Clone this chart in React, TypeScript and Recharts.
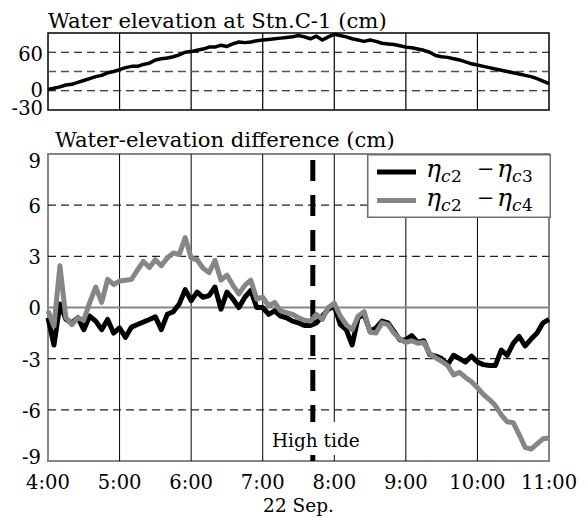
import React from 'react';
import { LineChart, Line, XAxis, YAxis, ReferenceLine, ReferenceArea, Legend } from 'recharts';

// ---------- data ----------
const timeMin = [
  0, 5, 10, 15, 20, 25, 30, 35, 40, 45, 50, 55, 60,
  65, 70, 75, 80, 85, 90, 95, 100, 105, 110, 115, 120,
  125, 130, 135, 140, 145, 150, 155, 160, 165, 170, 175, 180,
  185, 190, 195, 200, 205, 210, 215, 220, 225, 230, 235, 240,
  245, 250, 255, 260, 265, 270, 275, 280, 285, 290, 295, 300,
  305, 310, 315, 320, 325, 330, 335, 340, 345, 350, 355, 360,
  365, 370, 375, 380, 385, 390, 395, 400, 405, 410, 415, 420,
];

const elevationC1 = [
  2, 4, 6, 9, 10, 13, 16, 19, 22, 24, 28, 30, 33,
  36, 38, 38, 41, 43, 48, 50, 51, 53, 56, 60, 61,
  63, 65, 68, 68, 71, 69, 73, 76, 75, 76, 78, 79,
  80, 81, 82, 83, 84, 86, 84, 81, 85, 79, 84, 88,
  86, 84, 81, 79, 77, 79, 77, 74, 73, 72, 70, 68,
  67, 65, 63, 60, 55, 53, 52, 50, 48, 45, 42, 40,
  38, 36, 34, 32, 30, 28, 26, 24, 22, 19, 15, 11,
];

const diffC2C3 = [
  -0.6, -2.2, 0.2, -0.7, -0.9, -0.6, -1.3, -0.5, -0.8, -1.3, -0.7, -1.5, -1.2,
  -1.75, -1.15, -1.0, -0.85, -0.7, -0.55, -1.3, -0.4, -0.25, 0.2, 1.05, 0.4,
  0.9, 0.6, 0.7, 1.2, -0.1, 0.9, 0.5, 0.0, 0.6, 1.0, 0.0, 0.0,
  -0.4, -0.2, -0.5, -0.6, -0.8, -0.9, -1.05, -1.05, -0.9, -0.5, -0.1, 0.1,
  -1.0, -1.3, -2.2, -0.6, -0.4, -1.4, -1.2, -0.8, -0.9, -1.4, -1.9, -1.9,
  -1.65, -2.05, -1.95, -2.75, -2.85, -3.0, -3.35, -2.8, -3.0, -3.2, -2.85, -3.2,
  -3.35, -3.4, -3.4, -2.5, -2.8, -2.1, -1.7, -2.25, -1.85, -1.5, -0.9, -0.7,
];

const diffC2C4 = [
  -0.2, -1.1, 2.45, -0.6, -1.0, -0.6, -0.75, 0.3, 1.2, 0.3, 1.65, 1.35, 1.55,
  1.6, 1.65, 2.2, 2.7, 2.35, 2.8, 2.45, 2.9, 3.2, 3.1, 4.1, 2.9,
  2.8, 2.3, 2.05, 2.75, 1.6, 1.9, 1.3, 0.8, 1.3, 1.6, 0.5, 0.6,
  0.1, 0.3, -0.2, -0.3, -0.4, -0.6, -0.75, -0.8, -0.4, -0.7, 0.0, 0.25,
  -0.5, -1.0, -1.3, -0.5, -0.25, -1.45, -1.5, -0.9, -1.0, -1.5, -1.85, -2.05,
  -1.95, -2.1, -2.05, -2.7, -2.95, -3.15, -3.4, -3.95, -3.8, -4.1, -4.35, -4.7,
  -5.1, -5.4, -5.75, -6.3, -6.7, -6.75, -7.45, -8.2, -8.3, -8.0, -7.7, -7.65,
];

const hourTicks = [0, 60, 120, 180, 240, 300, 360, 420];
const hourLabels = ['4:00', '5:00', '6:00', '7:00', '8:00', '9:00', '10:00', '11:00'];
const innerHourLines = [60, 120, 180, 240, 300, 360];
const highTideMin = 222;
const highTideText = 'High tide';
const xAxisTitle = '22 Sep.';

const topTitle = 'Water elevation at Stn.C-1 (cm)';
const mainTitle = 'Water-elevation difference (cm)';
const topYDomain = [-30, 90];
const topYTicks = [-30, 0, 60];
const topDashedY = [0, 30, 60];
const mainYDomain = [-9, 9];
const mainYTicks = [-9, -6, -3, 0, 3, 6, 9];
const mainDashedY = [-6, -3, 3, 6];

const seriesC3 = { key: 'c3', name: 'ηc2 − ηc3', sub1: 'c2', sub2: 'c3', color: '#000000' };
const seriesC4 = { key: 'c4', name: 'ηc2 − ηc4', sub1: 'c2', sub2: 'c4', color: '#868686' };

const topData = timeMin.map((t, i) => ({ t, elev: elevationC1[i] }));
const mainData = timeMin.map((t, i) => ({ t, c3: diffC2C3[i], c4: diffC2C4[i] }));

// ---------- style ----------
const FONT = 'DejaVu Serif';
const TITLE_FS = 21.2;
const TICK_FS = 19.5;
const LABEL_FS = 18.5;
const FRAME_GRAY = '#858585';
const tickStyle = { fontFamily: FONT, fontSize: TICK_FS };
const labelStyle = { fontFamily: FONT, fontSize: LABEL_FS };
const titleStyle = { fontFamily: FONT, fontSize: TITLE_FS };

const TopYTick = (props: any) => {
  const v = props.payload.value;
  const off = v === -30 ? -2 : v === 60 ? 2 : -1;
  return (
    <text x={43} y={props.y + off} dy="0.355em" textAnchor="end" style={tickStyle} fill="#000">
      {v}
    </text>
  );
};

const MainYTick = (props: any) => {
  const v = props.payload.value;
  const off = v === 9 ? 7 : v === -9 ? -4 : 1;
  return (
    <text x={41} y={props.y + off} dy="0.355em" textAnchor="end" style={tickStyle} fill="#000">
      {v}
    </text>
  );
};

const XTick = (props: any) => {
  const idx = hourTicks.indexOf(props.payload.value);
  return (
    <text x={props.x} y={461 - 120 + 28} textAnchor="middle" style={tickStyle} fill="#000">
      {hourLabels[idx]}
    </text>
  );
};

const HighTideLabel = (props: any) => {
  const vb = props.viewBox || {};
  const x = vb.x;
  const bottom = vb.y + vb.height;
  return (
    <g>
      <rect x={x - 48} y={bottom - 39} width={97} height={33} fill="#fff" />
      <text x={x + 3} y={bottom - 14} textAnchor="middle" style={labelStyle} fill="#000">
        {highTideText}
      </text>
    </g>
  );
};

const XTitle = (props: any) => {
  const vb = props.viewBox || {};
  return (
    <text x={vb.x + vb.width / 2} y={vb.y + 51} textAnchor="middle" style={labelStyle} fill="#000">
      {xAxisTitle}
    </text>
  );
};

const series = [seriesC3, seriesC4];

const LegendBox = (props: any) => {
  const payload = props.payload || [];
  const rows = series.map((s) => {
    const p = payload.find((e: any) => e.dataKey === s.key);
    return { ...s, color: p ? p.color : s.color };
  });
  const big = { fontFamily: FONT, fontSize: 25, fontStyle: 'italic' as const };
  const small = { fontFamily: FONT, fontSize: 17 };
  const minus = { fontFamily: FONT, fontSize: 21 };
  return (
    <svg width={184} height={64} style={{ display: 'block', overflow: 'visible' }}>
      <rect x={0.75} y={0.75} width={182.5} height={62.5} fill="#fff" stroke="#6e6e6e" strokeWidth={1.5} />
      {rows.map((r, i) => {
        const cy = 18 + i * 28.5;
        const base = cy + 5;
        return (
          <g key={r.key}>
            <line x1={10} x2={49} y1={cy} y2={cy} stroke={r.color} strokeWidth={5} />
            <text x={59} y={base} style={big} fill="#000">η</text>
            <text x={74} y={base + 5} style={{ ...small, fontStyle: 'italic' }} fill="#000">{r.sub1[0]}</text>
            <text x={84} y={base + 5} style={small} fill="#000">{r.sub1.slice(1)}</text>
            <text x={110} y={base - 1} style={minus} fill="#000">−</text>
            <text x={130} y={base} style={big} fill="#000">η</text>
            <text x={145} y={base + 5} style={{ ...small, fontStyle: 'italic' }} fill="#000">{r.sub2[0]}</text>
            <text x={155} y={base + 5} style={small} fill="#000">{r.sub2.slice(1)}</text>
          </g>
        );
      })}
    </svg>
  );
};

export default function App() {
  return (
    <div style={{ position: 'absolute', left: 0, top: 0, width: 588, height: 521, background: '#fff', overflow: 'hidden' }}>
      <svg width={588} height={160} style={{ position: 'absolute', left: 0, top: 0, pointerEvents: 'none', zIndex: 2 }}>
        <text x={48} y={28} style={titleStyle} fill="#000">{topTitle}</text>
        <text x={55} y={147} style={titleStyle} fill="#000">{mainTitle}</text>
      </svg>

      <div style={{ position: 'absolute', left: 0, top: 0 }}>
        <LineChart width={588} height={120} data={topData} margin={{ top: 33, right: 39, bottom: 10, left: 0 }}>
          <XAxis dataKey="t" type="number" domain={[0, 420]} ticks={hourTicks} hide />
          <YAxis
            type="number"
            domain={topYDomain}
            ticks={topYTicks}
            width={48}
            axisLine={false}
            tickLine={false}
            tick={<TopYTick />}
            interval={0}
          />
          {innerHourLines.map((h) => (
            <ReferenceLine key={'tv' + h} x={h} stroke="#000" strokeWidth={1.2} />
          ))}
          {topDashedY.map((v) => (
            <ReferenceLine
              key={'th' + v}
              y={v}
              stroke={v === 30 ? '#555' : '#000'}
              strokeWidth={v === 30 ? 1.6 : 1.2}
              strokeDasharray="8 5"
            />
          ))}
          <ReferenceArea x1={0} x2={420} y1={-30} y2={90} fill="none" stroke="#000" strokeWidth={1.5} ifOverflow="visible" />
          <Line
            type="linear"
            dataKey="elev"
            stroke="#000"
            strokeWidth={3.5}
            dot={false}
            isAnimationActive={false}
            strokeLinejoin="round"
          />
        </LineChart>
      </div>

      <div style={{ position: 'absolute', left: 0, top: 120 }}>
        <LineChart width={588} height={401} data={mainData} margin={{ top: 34, right: 39, bottom: 0, left: 0 }}>
          <XAxis
            dataKey="t"
            type="number"
            domain={[0, 420]}
            ticks={hourTicks}
            interval={0}
            height={60}
            axisLine={false}
            tickLine={false}
            tick={<XTick />}
            label={{ content: (p: any) => <XTitle {...p} /> }}
          />
          <YAxis
            type="number"
            domain={mainYDomain}
            ticks={mainYTicks}
            width={48}
            axisLine={false}
            tickLine={false}
            tick={<MainYTick />}
            interval={0}
          />
          {innerHourLines.map((h) => (
            <ReferenceLine key={'mv' + h} x={h} stroke="#000" strokeWidth={1} />
          ))}
          {mainDashedY.map((v) => (
            <ReferenceLine key={'mh' + v} y={v} stroke="#222" strokeWidth={1.2} strokeDasharray="8 5" />
          ))}
          <ReferenceLine y={0} stroke={FRAME_GRAY} strokeWidth={2} />
          <ReferenceLine
            x={highTideMin}
            stroke="#000"
            strokeWidth={5}
            strokeDasharray="21 14"
            label={(p: any) => <HighTideLabel {...p} />}
          />
          <ReferenceArea x1={0} x2={420} y1={-9} y2={9} fill="none" stroke={FRAME_GRAY} strokeWidth={2} ifOverflow="visible" />
          <Line
            type="linear"
            dataKey="c3"
            name={seriesC3.name}
            stroke={seriesC3.color}
            strokeWidth={5}
            dot={false}
            isAnimationActive={false}
            strokeLinejoin="round"
          />
          <Line
            type="linear"
            dataKey="c4"
            name={seriesC4.name}
            stroke={seriesC4.color}
            strokeWidth={5}
            dot={false}
            isAnimationActive={false}
            strokeLinejoin="round"
          />
          <Legend
            layout="horizontal"
            verticalAlign="middle"
            align="center"
            content={(p: any) => <LegendBox {...p} />}
            wrapperStyle={{ left: 367, top: 34, width: 184, height: 64, right: 'auto', bottom: 'auto' }}
          />
        </LineChart>
      </div>
    </div>
  );
}
